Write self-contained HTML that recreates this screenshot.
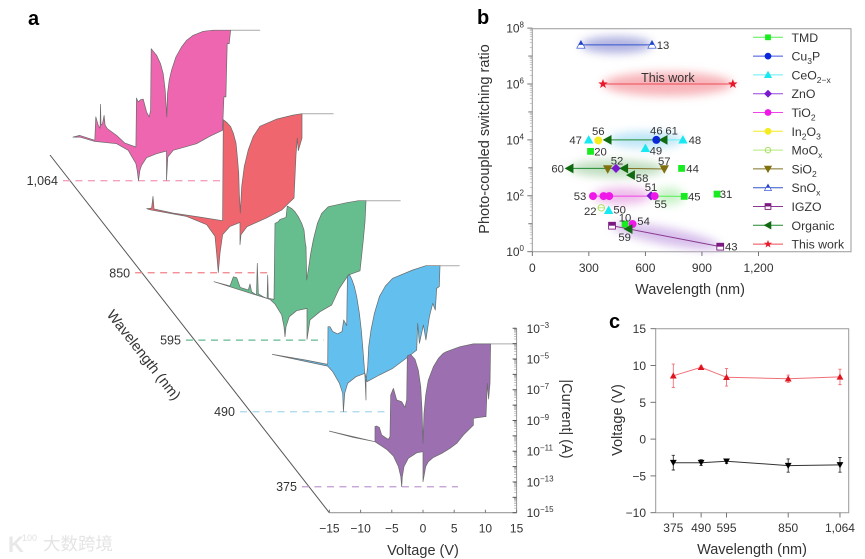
<!DOCTYPE html>
<html lang="en">
<head>
<meta charset="utf-8">
<title>Wavelength-dependent photo-coupled switching figure</title>
<style>
html,body{margin:0;padding:0;background:#fff;}
#fig{display:block;width:865px;height:559px;filter:blur(0.3px);}
text{font-family:"Liberation Sans","Noto Sans CJK SC",sans-serif;fill:#333;}
.panel{font-weight:bold;font-size:20px;fill:#000;}
.title{font-size:14.5px;}
.tick{font-size:12px;}
</style>
</head>
<body>
<svg id="fig" xmlns="http://www.w3.org/2000/svg" width="865" height="559" viewBox="0 0 865 559">
<defs>
<filter id="glow" x="-40%" y="-100%" width="180%" height="300%"><feGaussianBlur stdDeviation="4.5"/></filter>
</defs>
<rect width="865" height="559" fill="#fff"/>
<text class="panel" x="28" y="25">a</text>
<text class="panel" x="477" y="24">b</text>
<text class="panel" x="609" y="328">c</text>
<g id="panelA"></g>
<g id="panelB"></g>
<g id="panelC"></g>
<text class="title" x="423" y="555" text-anchor="middle">Voltage (V)</text>
<text class="title" transform="translate(140,358) rotate(52)" text-anchor="middle">Wavelength (nm)</text>
<text class="title" transform="translate(562,419) rotate(90)" text-anchor="middle">|Current| (A)</text>
<text class="title" transform="translate(489,139) rotate(-90)" text-anchor="middle">Photo-coupled switching ratio</text>
<text class="title" x="690" y="294" text-anchor="middle">Wavelength (nm)</text>
<text class="title" transform="translate(622,420) rotate(-90)" text-anchor="middle">Voltage (V)</text>
<text class="title" x="752" y="554" text-anchor="middle">Wavelength (nm)</text>
<g>
<text x="8" y="552" style="font-size:22px;fill:#e8e8e8;font-weight:bold">K</text>
<text x="22" y="541" style="font-size:9px;fill:#e2e2e2">100</text>
<text x="43" y="550" style="font-size:17.5px;fill:#e4e4e4">大数跨境</text>
</g>
</svg>
<script>
/* ===== Panel a data: voltage (V) and log10 current, one pair per wavelength ===== */
const curveWavelengths = [1064, 850, 595, 490, 375];
const curveTickLabels = ['1,064', '850', '595', '490', '375'];
const curveFills = ['#ee66b0', '#f0666e', '#66bd8e', '#62bfee', '#9b6fb0'];
const dashColors = ['#f4a0c0', '#f0808a', '#60b890', '#a8d8ec', '#c09ad0'];
const curveOffsetVolts = [-41.1, -29.33, -18.59, -9.13, 0];
const curveOffsetDecades = [19.91, 13.92, 9.54, 4.88, 0];
const dashStartVolts = [-16.6, -16.8, -19.4, -20.2, -19.4];
const dashEndVolts = [8.6, 4.8, 2.7, 3.4, 5.6];
const dashLogCurrent = -13.31;
const complianceVolts = [10.26, 9.94, 9.46, 11.86, 10.84];

const v1064 = [-15,-13.9,-11.5,-11.34,-10.95,-10.65,-10.58,-10.5,-10.26,-10,-9.85,-9.5,-8,-6.68,-4.91,-4.81,-4.54,-4.17,-3.74,-3.2,-2.78,-2.56,-2.46,-1.6,-0.96,-0.53,-0.21,-0.11,0.05,0.16,0.43,0.8,1.5,2.4,3.2,4.27,5.88,7.48,10.26,10.04,9.72,9.51,9.19,8.97,6.94,4.81,1.07,0.21,0,0,-1.6,-3.2,-4,-4.27,-4.49,-4.7,-4.91,-6.14,-8,-11.5,-13.9];
const l1064 = [-10.47,-10.36,-10.68,-9.16,-9.7,-9.9,-8.34,-9.7,-9.6,-9.06,-9.7,-9.92,-10.36,-10.86,-11.12,-7.93,-8.19,-8.04,-8,-8.84,-9.16,-8.73,-4.72,-5.15,-5.7,-6.34,-7.43,-8.08,-9.16,-7.65,-6.78,-6.13,-5.26,-4.61,-4.18,-3.85,-3.59,-3.52,-3.52,-4.39,-4.39,-7.86,-7.86,-10.03,-10.42,-10.9,-11.33,-11.77,-13.29,-11.38,-11.55,-11.81,-12.31,-12.64,-13.31,-12.64,-12.2,-11.33,-10.9,-10.75,-10.47];

const v850 = [-14.96,-14.16,-13.94,-13.78,-10.68,-6.41,-2.78,-2.67,-2.14,-1.5,-1.07,-0.64,-0.43,-0.21,-0.11,0.05,0.27,0.69,1.34,2.14,3.2,5.88,8.5,9.94,9.94,9.34,9.18,8.97,8.65,7.7,6.73,4.33,1.12,0.16,0,0,-1.6,-2.78,-3.2,-3.47,-3.74,-4,-5.34,-8.55,-14.4];
const l850 = [-9.14,-9.1,-8.34,-9.16,-9.43,-9.69,-9.92,-3.35,-3.52,-3.8,-4.22,-4.87,-5.74,-6.82,-8.12,-9.43,-7.69,-6.39,-5.3,-4.44,-3.78,-3.31,-3.05,-2.96,-4.54,-5.37,-4.54,-5.63,-8.45,-8.82,-9.21,-9.73,-10.31,-10.83,-11.48,-10.03,-10.29,-10.83,-12.03,-13.29,-12.03,-10.94,-10.18,-9.64,-9.21];

const v595 = [-14.9,-12.34,-11.8,-11.26,-10.7,-9.4,-9.13,-8.87,-8.1,-7.96,-7.8,-7,-6.4,-6.3,-6.2,-5.29,-5.13,-4.6,-4.33,-3.37,-3.15,-2.46,-1.92,-1.39,-0.85,-0.48,-0.27,-0.16,-0.05,0.21,0.59,1.01,1.66,2.35,3.42,6.36,8.23,9.46,9.3,9.03,8.65,8.49,6.62,5.18,3.95,2.08,0.48,0,0,-1.66,-2.83,-3.37,-3.53,-3.69,-4.06,-5.13,-5.93];
const l595 = [-9.51,-9.79,-9.19,-9.25,-9.88,-10.05,-9.66,-10.16,-10.38,-8.32,-10.3,-10.49,-10.6,-9.08,-10.6,-10.66,-5.72,-5.61,-5.46,-5.33,-4.59,-4.74,-4.96,-5.28,-5.72,-6.15,-7,-7.23,-9.4,-8.75,-7.67,-6.8,-5.72,-5.07,-4.63,-4.37,-4.24,-4.24,-5.61,-6.8,-8.21,-8.8,-9.08,-9.95,-11.03,-11.46,-12,-13.26,-11.25,-11.4,-11.79,-12.44,-13.09,-12.44,-11.68,-10.97,-10.66];

const v490 = [-15,-9.6,-6.14,-6.09,-5.77,-5.34,-4.54,-3.85,-3.58,-3.1,-2.99,-2.67,-2.24,-1.87,-1.5,-1.07,-0.75,-0.53,-0.32,-0.16,0,0,0.27,0.43,0.8,1.34,2.14,3.1,4.27,7.48,9.6,11.86,11.75,11.32,11.1,10.68,10.15,9.6,9.19,8.55,8.28,8.12,6.41,4.27,2.14,0.16,-0.16,-1.6,-2.94,-3.42,-3.63,-3.74,-4.27,-5.34,-6.14];
const l490 = [-9.58,-9.95,-10.23,-7.78,-7.78,-8.1,-8.25,-8.1,-7.34,-7.71,-4.52,-4.37,-4.74,-5.17,-5.82,-6.91,-7.99,-9.08,-10.16,-11.03,-12.55,-11.25,-10.38,-9.08,-7.99,-6.91,-5.82,-5.13,-4.63,-4.09,-3.81,-3.81,-5.17,-5.28,-6.69,-6.26,-7.13,-8.64,-7.67,-8.86,-7.56,-9.3,-9.84,-10.49,-10.92,-11.36,-10.81,-11.03,-11.46,-12.11,-13.31,-12.11,-11.46,-10.7,-10.34];

const v375 = [-15,-11.16,-7.69,-7.69,-7.43,-7,-6.62,-5.56,-5.29,-5.18,-4.75,-4.22,-3.42,-2.88,-2.62,-2.51,-1.98,-1.28,-0.75,-0.37,-0.16,-0.05,0,0.05,0.16,0.43,0.85,1.66,2.46,3.26,3.79,5.93,8.07,10.84,10.74,10.52,10.31,10.1,9.94,8.07,8.07,6.46,5.4,4.33,2.99,1.66,0.85,0.43,0,0,-1.01,-2.35,-3.04,-3.31,-3.42,-3.55,-3.95,-4.75,-5.82,-7.69];
const l375 = [-9.69,-10.1,-10.38,-9.4,-9.36,-9.45,-9.95,-10.23,-10.05,-7.34,-6.91,-7.67,-7.78,-8.15,-7.67,-4.8,-4.7,-5.02,-5.72,-6.8,-8.32,-9.84,-10.49,-9.84,-8.54,-7.34,-6.37,-5.5,-4.96,-4.63,-4.52,-4.2,-4.02,-4.02,-6.58,-7.6,-6.58,-8.75,-8.75,-8.86,-9.3,-9.95,-10.49,-10.81,-11.14,-11.4,-11.68,-12,-12.98,-11.03,-11.1,-11.46,-12,-12.66,-13.31,-12.66,-12,-11.31,-10.88,-10.38];

const curveVoltages = [v1064, v850, v595, v490, v375];
const curveCurrents = [l1064, l850, l595, l490, l375];
const voltageTicks = [-15, -10, -5, 0, 5, 10, 15];
const currentTickExponents = [-15, -13, -11, -9, -7, -5, -3];

/* ===== Panel b data ===== */
const materials = ['TMD', 'Cu3P', 'CeO2-x', 'ZnO', 'TiO2', 'In2O3', 'MoOx', 'SiO2', 'SnOx', 'IGZO', 'Organic', 'This work'];
const legendLabelParts = [['TMD'], ['Cu','3','P'], ['CeO','2\u2212x'], ['ZnO'], ['TiO','2'], ['In','2','O','3'], ['MoO','x'], ['SiO','2'], ['SnO','x'], ['IGZO'], ['Organic'], ['This work']];
const pointMaterial = [8,8,11,11,2,5,10,1,10,2,2,0,10,7,3,10,10,7,0,4,4,4,3,4,0,0,6,2,0,4,10,9,9];
const pointNm = [258,635,375,1064,299,350,400,658,697,799,600,309,198,400,444,488,524,700,792,322,378,408,630,649,806,980,366,405,492,532,511,423,997];
const pointLog = [7.4,7.4,6,6,4,3.98,4,4,4,4,3.7,3.59,2.98,2.96,2.98,2.98,2.74,2.96,2.98,1.99,1.99,1.99,2,1.99,1.98,2.06,1.57,1.48,0.99,0.99,0.81,0.93,0.18];
const pointRef = ['','13','','','47','56','','46','61','48','49','20','60','','52','','58','57','44','53','','','51','55','45','31','22','50','10','54','59','','43'];
const segmentFrom = [0,2,6,8,12,15,19,23,31];
const segmentTo = [1,3,8,9,15,17,23,24,32];
const segmentMaterial = [8,11,10,2,10,7,4,0,9];
const glowFrom = [0,2,6,12,19,23,31];
const glowTo = [1,3,9,17,22,24,32];
const glowColors = ['#a4a6dc','#f6a8ae','#b4e2f6','#b4d8b4','#eab0e6','#c0f0c0','#d0b4e8'];
const ratioTickExponents = [0,2,4,6,8];
const wavelengthTicksB = [0,300,600,900,1200];
const wavelengthTickLabelsB = ['0','300','600','900','1,200'];

/* ===== Panel c data ===== */
const wavelengthsC = [375,490,595,850,1064];
const wavelengthLabelsC = ['375','490','595','850','1,064'];
const setVoltage = [8.6,9.75,8.4,8.2,8.45];
const setError = [1.6,0.2,1.2,0.5,1.05];
const resetVoltage = [-3.2,-3.2,-3.0,-3.6,-3.5];
const resetError = [1.0,0.4,0.3,0.9,1.0];
const voltageTicksC = [-10,-5,0,5,10,15];

/* ===== helpers ===== */
const NS = 'http://www.w3.org/2000/svg';
function make(tag, parent, attrs){
  const el = document.createElementNS(NS, tag);
  for (const k in attrs) el.setAttribute(k, attrs[k]);
  parent.appendChild(el);
  return el;
}
const panelA = document.getElementById('panelA');
const panelB = document.getElementById('panelB');
const panelC = document.getElementById('panelC');

/* ===== Panel a scales ===== */
const ax = (v, k) => 423 + (v + (k === undefined ? 0 : curveOffsetVolts[k])) * 6.24;
const ay = (l, k) => 512.7 - (l + 15 + (k === undefined ? 0 : curveOffsetDecades[k])) * 15.37;

const diag = make('line', panelA, {x1:50, y1:155, x2:329.3, y2:512.7, stroke:'#555', 'stroke-width':1});



curveWavelengths.forEach((w, k) => {
  const d = curveVoltages[k].map((v, i) => ax(v, k).toFixed(1) + ',' + ay(curveCurrents[k][i], k).toFixed(1)).join(' ');
  const yDash = ay(dashLogCurrent, k);
  const dash = make('line', panelA, {x1:ax(dashStartVolts[k], k), y1:yDash, x2:ax(dashEndVolts[k], k), y2:yDash, stroke:dashColors[k], 'stroke-width':1.3, 'stroke-dasharray':'7 5.5'});
  
  
  const lab = make('text', panelA, {x:ax(dashStartVolts[k], k) - 5, y:yDash + 4.5, 'text-anchor':'end', class:'tick', style:'font-size:12.5px'});
  lab.textContent = curveTickLabels[k];
  
  
  const topLog = Math.max.apply(null, curveCurrents[k]);
  const comp = make('line', panelA, {x1:ax(complianceVolts[k], k), y1:ay(topLog, k), x2:ax(15, k), y2:ay(topLog, k), stroke:'#aaa', 'stroke-width':1});
  
  
  const poly = make('polygon', panelA, {points:d, fill:curveFills[k], stroke:'#6a6a6a', 'stroke-width':0.7, 'stroke-linejoin':'round'});
  
  
});

const vAxisLine = make('line', panelA, {x1:ax(-15), y1:ay(-15), x2:ax(15), y2:ay(-15), stroke:'#999', 'stroke-width':1.2});


const iAxisLine = make('line', panelA, {x1:ax(15), y1:ay(-15), x2:ax(15), y2:ay(-3), stroke:'#999', 'stroke-width':1});



voltageTicks.forEach(t => {
  const tk = make('line', panelA, {x1:ax(t), y1:ay(-15), x2:ax(t), y2:ay(-15) - 3, stroke:'#777', 'stroke-width':1});
  
  
  const lb = make('text', panelA, {x:ax(t), y:ay(-15) + 20, 'text-anchor':'middle', class:'tick'});
  lb.textContent = (t < 0 ? '\u2212' + (-t) : String(t));
  
  
});

for (let e = -15; e <= -3; e++) {
  const major = make('line', panelA, {x1:ax(15) - 4, y1:ay(e), x2:ax(15), y2:ay(e), stroke:'#555', 'stroke-width':1});
  
  
  if (e < -3) {
    for (let m = 2; m < 10; m++) {
      const minor = make('line', panelA, {x1:ax(15) - 2.5, y1:ay(e + Math.log10(m)), x2:ax(15), y2:ay(e + Math.log10(m)), stroke:'#888', 'stroke-width':0.5});
      
      
    }
  }
}
currentTickExponents.forEach(e => {
  const t = make('text', panelA, {x:ax(15) + 10, y:ay(e) + 4.5, class:'tick', style:'font-size:12px'});
  
  
  t.appendChild(document.createTextNode('10'));
  const s = make('tspan', t, {dy:-5, style:'font-size:8px'});
  s.textContent = '\u2212' + (-e);
});

/* ===== Panel b scales ===== */
const bx = nm => 532.3 + nm * 0.1885;
const by = l => 251.7 - l * 27.95;
const materialColors = ['#18ec20','#0a28d8','#18e8f0','#7a18d0','#f018e8','#f5ec20','#a8e060','#807010','#2244cc','#7a1a80','#0f6a10','#e8182a'];
const lineColors = ['#55ee55','#3a55e0','#66eef2','#9a44dd','#f044e8','#f5ec20','#b8e880','#807020','#3355cc','#8a3a90','#1f8a30','#ee4a55'];

const marker = (parent, m, cx, cy, r) => {
  const c = materialColors[m];
  const g = make('g', parent, {});
  const tri = (x, y, s, fill, stroke, dir) => {
    const pts = dir === 'up' ? [[x, y - s], [x + s, y + s * 0.8], [x - s, y + s * 0.8]]
      : dir === 'down' ? [[x, y + s], [x + s, y - s * 0.8], [x - s, y - s * 0.8]]
      : [[x - s, y], [x + s * 0.8, y - s], [x + s * 0.8, y + s]];
    return make('polygon', g, {points:pts.map(p => p.join(',')).join(' '), fill:fill, stroke:stroke, 'stroke-width':0.6});
  };
  if (m === 0) {
    make('rect', g, {x:cx - r * 0.85, y:cy - r * 0.85, width:r * 1.7, height:r * 1.7, fill:c});
  } else if (m === 1 || m === 4 || m === 5) {
    make('circle', g, {cx:cx, cy:cy, r:r, fill:c});
  } else if (m === 2) {
    tri(cx, cy, r * 1.05, c, c, 'up');
  } else if (m === 3) {
    make('polygon', g, {points:[[cx, cy - r * 1.15], [cx + r * 1.15, cy], [cx, cy + r * 1.15], [cx - r * 1.15, cy]].map(p => p.join(',')).join(' '), fill:c});
  } else if (m === 6) {
    make('circle', g, {cx:cx, cy:cy, r:r * 0.8, fill:'#fff', stroke:c, 'stroke-width':1});
    make('line', g, {x1:cx - r * 0.8, y1:cy, x2:cx + r * 0.8, y2:cy, stroke:c, 'stroke-width':0.8});
  } else if (m === 7) {
    tri(cx, cy, r * 1.05, c, c, 'down');
  } else if (m === 8) {
    tri(cx, cy, r * 1.05, '#fff', c, 'up');
    make('polygon', g, {points:[[cx, cy - r * 1.05], [cx + r * 0.6, cy], [cx - r * 0.6, cy]].map(p => p.join(',')).join(' '), fill:c});
  } else if (m === 9) {
    make('rect', g, {x:cx - r * 0.85, y:cy - r * 0.85, width:r * 1.7, height:r * 1.7, fill:'#fff', stroke:c, 'stroke-width':0.9});
    make('rect', g, {x:cx - r * 0.85, y:cy - r * 0.85, width:r * 1.7, height:r * 0.85, fill:c});
  } else if (m === 10) {
    tri(cx, cy, r * 1.1, c, c, 'left');
  } else {
    const pts = [];
    for (let i = 0; i < 10; i++) {
      const a = -Math.PI / 2 + i * Math.PI / 5, q = i % 2 ? r * 0.5 : r * 1.25;
      pts.push((cx + q * Math.cos(a)).toFixed(2) + ',' + (cy + q * Math.sin(a)).toFixed(2));
    }
    make('polygon', g, {points:pts.join(' '), fill:c});
  }
  return g;
};

const plotFrame = make('path', panelB, {d:'M532.3,251.7V28.7H851V251.7H532.3', fill:'none', stroke:'#999', 'stroke-width':1});



glowFrom.forEach((a, i) => {
  const b = glowTo[i];
  const x1 = bx(pointNm[a]), y1 = by(pointLog[a]), x2 = bx(pointNm[b]), y2 = by(pointLog[b]);
  const cx = (x1 + x2) / 2, cy = (y1 + y2) / 2, len = Math.hypot(x2 - x1, y2 - y1);
  const ang = Math.atan2(y2 - y1, x2 - x1) * 180 / Math.PI;
  const e = make('ellipse', panelB, {cx:cx, cy:cy, rx:len / 2, ry:i === 1 ? 12 : 8.5, fill:glowColors[i], filter:'url(#glow)', opacity:0.85, transform:'rotate(' + ang + ' ' + cx + ' ' + cy + ')'});
  
  
});

segmentFrom.forEach((a, i) => {
  const b = segmentTo[i];
  const l = make('line', panelB, {x1:bx(pointNm[a]), y1:by(pointLog[a]), x2:bx(pointNm[b]), y2:by(pointLog[b]), stroke:lineColors[segmentMaterial[i]], 'stroke-width':1});
  
  
});

pointNm.forEach((nm, i) => {
  const g = marker(panelB, pointMaterial[i], bx(nm), by(pointLog[i]), 4);
  
  
});

const labelNudge = {13:[11,0],47:[-13,0],56:[0,-9.5],46:[0,-9.5],61:[8,-9.5],48:[12,0],49:[10.5,2],20:[10,0],60:[-12,0],52:[1,-8],57:[0,-8],44:[11,0],58:[11,3],53:[-13,0],51:[0,-9],55:[6,8],45:[10,0],31:[9,0],22:[-11,3],50:[11,-1],10:[0,-6.5],54:[11,-3],59:[-4,8],43:[11,0]};
pointRef.forEach((r, i) => {
  if (!r) return;
  const n = labelNudge[r];
  const t = make('text', panelB, {x:bx(pointNm[i]) + n[0], y:by(pointLog[i]) + n[1] + 4, 'text-anchor':'middle', style:'font-size:11.3px'});
  t.textContent = r;
  
  
});

const thisWorkText = make('text', panelB, {x:(bx(pointNm[2]) + bx(pointNm[3])) / 2, y:by(pointLog[2]) - 2, 'text-anchor':'middle', style:'font-size:12.5px'});
thisWorkText.textContent = 'This work';



ratioTickExponents.forEach(e => {
  const t = make('text', panelB, {x:524, y:by(e) + 4.5, 'text-anchor':'end', class:'tick', style:'font-size:12px'});
  
  
  t.appendChild(document.createTextNode('10'));
  const s = make('tspan', t, {dy:-5, style:'font-size:8px'});
  s.textContent = String(e);
});
for (let e = 0; e <= 8; e++) {
  const tk = make('line', panelB, {x1:532.3 - (e % 2 ? 4 : 5), y1:by(e), x2:532.3, y2:by(e), stroke:'#666', 'stroke-width':0.9});
  
  
  if (e < 8) {
    for (let m = 2; m < 10; m++) {
      const mn = make('line', panelB, {x1:529.8, y1:by(e + Math.log10(m)), x2:532.3, y2:by(e + Math.log10(m)), stroke:'#999', 'stroke-width':0.5});
      
      
    }
  }
}
wavelengthTicksB.forEach((t, i) => {
  const tk = make('line', panelB, {x1:bx(t), y1:251.7, x2:bx(t), y2:256, stroke:'#666', 'stroke-width':0.9});
  
  
  const lb = make('text', panelB, {x:bx(t), y:272, 'text-anchor':'middle', class:'tick'});
  lb.textContent = wavelengthTickLabelsB[i];
  
  
});

materials.forEach((name, i) => {
  const y = 37.3 + i * 18.8;
  const ln = make('line', panelB, {x1:753, y1:y, x2:783, y2:y, stroke:lineColors[i], 'stroke-width':1});
  
  
  const mk = marker(panelB, i, 768, y, 3.4);
  
  
  const t = make('text', panelB, {x:791.5, y:y + 4.5, style:'font-size:12.3px'});
  
  
  legendLabelParts[i].forEach((part, j) => {
    const ts = make('tspan', t, j % 2 ? {dy:3.5, style:'font-size:8.5px'} : (j > 0 ? {dy:-3.5} : {}));
    ts.textContent = part;
  });
});

/* ===== Panel c scales ===== */
const cx = nm => 673.3 + (nm - 375) * 0.2419;
const cy = v => 512.7 - (v + 10) * 7.36;
const frameC = make('path', panelC, {d:'M655.7,512.7V328.7H848.7V512.7H655.7', fill:'none', stroke:'#999', 'stroke-width':1});


voltageTicksC.forEach(v => {
  const tk = make('line', panelC, {x1:650.5, y1:cy(v), x2:655.7, y2:cy(v), stroke:'#666', 'stroke-width':0.9});
  
  
  const lb = make('text', panelC, {x:646, y:cy(v) + 4.5, 'text-anchor':'end', class:'tick'});
  lb.textContent = v < 0 ? '\u2212' + (-v) : String(v);
  
  
});
wavelengthsC.forEach((w, i) => {
  const tk = make('line', panelC, {x1:cx(w), y1:512.7, x2:cx(w), y2:517.5, stroke:'#666', 'stroke-width':0.9});
  
  
  const lb = make('text', panelC, {x:cx(w), y:532, 'text-anchor':'middle', class:'tick'});
  lb.textContent = wavelengthLabelsC[i];
  
  
});
const drawSeries = (vals, errs, lineColor, markColor, up) => {
  const path = make('polyline', panelC, {points:vals.map((v, i) => cx(wavelengthsC[i]).toFixed(1) + ',' + cy(v).toFixed(1)).join(' '), fill:'none', stroke:lineColor, 'stroke-width':1});
  
  
  vals.forEach((v, i) => {
    const x = cx(wavelengthsC[i]);
    const eb = make('path', panelC, {d:'M' + (x - 1.6) + ',' + cy(v + errs[i]) + 'h3.2M' + x + ',' + cy(v + errs[i]) + 'V' + cy(v - errs[i]) + 'M' + (x - 1.6) + ',' + cy(v - errs[i]) + 'h3.2', fill:'none', stroke:lineColor, 'stroke-width':0.9});
    
    
    const y = cy(v), s = 3.4;
    const pts = up ? [[x, y - s], [x + s, y + s * 0.8], [x - s, y + s * 0.8]] : [[x, y + s], [x + s, y - s * 0.8], [x - s, y - s * 0.8]];
    const m = make('polygon', panelC, {points:pts.map(p => p.join(',')).join(' '), fill:markColor});
    
    
  });
};
drawSeries(setVoltage, setError, '#f07078', '#e0141e', true);
drawSeries(resetVoltage, resetError, '#333', '#000', false);
</script>
</body>
</html>
